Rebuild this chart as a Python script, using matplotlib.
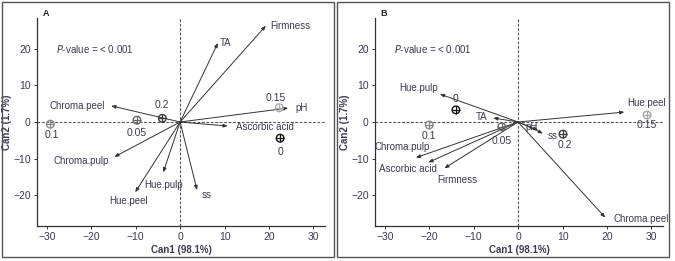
import matplotlib
matplotlib.use("Agg")
import matplotlib.pyplot as plt
from matplotlib.patches import Rectangle

plt.rcParams['font.family'] = ['Liberation Sans Narrow', 'Liberation Sans', 'DejaVu Sans']

# panel A: variable vectors and group centroids
a_vars = ["Firmness", "TA", "Chroma.peel", "pH", "Ascorbic acid",
          "Chroma.pulp", "Hue.pulp", "Hue.peel", "ss"]
a_vx = [19.3, 8.5, -15.5, 24.3, 10.7, -14.8, -3.8, -10.1, 3.8]
a_vy = [26.2, 21.5, 4.4, 3.8, -1.1, -9.5, -13.7, -19.1, -18.5]
a_groups = ["0.1", "0.05", "0.2", "0.15", "0"]
a_gx = [-29.2, -9.7, -4.0, 22.3, 22.5]
a_gy = [-0.6, 0.5, 1.0, 3.9, -4.4]

# panel B
b_vars = ["Hue.pulp", "Hue.peel", "TA", "pH", "ss",
          "Chroma.pulp", "Ascorbic acid", "Firmness", "Chroma.peel"]
b_vx = [-17.6, 23.9, -5.6, 4.5, 5.6, -23.0, -20.2, -16.6, 19.6]
b_vy = [7.6, 2.7, 1.1, -2.2, -3.1, -9.7, -11.0, -12.6, -26.0]
b_groups = ["0", "0.1", "0.05", "0.2", "0.15"]
b_gx = [-14.0, -20.0, -3.7, 10.1, 29.0]
b_gy = [3.3, -0.8, -1.3, -3.3, 1.9]

xticks = [-30, -20, -10, 0, 10, 20, 30]
yticks = [-20, -10, 0, 10, 20]

# layout: label offsets in pixels and alignment
a_vlab = {"Firmness": (4, 0, "left"), "TA": (2, 0, "left"),
          "Chroma.peel": (-6, 0, "right"), "pH": (7, 0, "left"),
          "Ascorbic acid": (8, -1, "left"), "Chroma.pulp": (-5, -4, "right"),
          "Hue.pulp": (0, -13, "center"), "Hue.peel": (-7, -9, "center"),
          "ss": (5, -5, "left")}
a_glab = {"0.1": (2, -11), "0.05": (0, -13), "0.2": (0, 13), "0.15": (-3, 10), "0": (0, -14)}
b_vlab = {"Hue.pulp": (-2, 6, "right"), "Hue.peel": (22, 9, "center"),
          "TA": (-6, 1, "right"), "pH": (0, 3, "right"), "ss": (5, -3, "left"),
          "Chroma.pulp": (-14, 11, "center"), "Ascorbic acid": (-20, -7, "center"),
          "Firmness": (13, -12, "center"), "Chroma.peel": (8, -1, "left")}
b_glab = {"0": (0, 11), "0.1": (0, -11), "0.05": (0, -14), "0.2": (2, -11), "0.15": (0, -10)}
gcol = {"0": "#111111", "0.2": "#3a3a3a", "0.05": "#666666", "0.1": "#888888", "0.15": "#aaaaaa"}

txtc = "#3c3c4c"

fig = plt.figure(figsize=(6.75, 2.61), dpi=100)
fig.patches.append(Rectangle((2/675, 4/261), 332/675, 255/261, transform=fig.transFigure,
                             fill=False, ec="#555555", lw=1.0))
fig.patches.append(Rectangle((337/675, 4/261), 332/675, 255/261, transform=fig.transFigure,
                             fill=False, ec="#555555", lw=1.0))


def panel(rect, letter, vars_, vx, vy, vlab, groups, gx, gy, glab):
    ax = fig.add_axes(rect)
    ax.set_xlim(-32.2, 32.6)
    ax.set_ylim(-28.3, 28.3)
    for s in ["top", "right"]:
        ax.spines[s].set_visible(False)
    for s in ["left", "bottom"]:
        ax.spines[s].set_color("#333333")
        ax.spines[s].set_linewidth(0.9)
    ax.set_xticks(xticks)
    ax.set_yticks(yticks)
    ax.tick_params(labelsize=7.5, colors="#333333", length=2.5, width=0.7, pad=2,
                   labelcolor=txtc)
    ax.axhline(0, color="#555555", lw=0.8, ls=(0, (2.5, 1.5)))
    ax.axvline(0, color="#555555", lw=0.8, ls=(0, (2.5, 1.5)))
    for name, x, y in zip(vars_, vx, vy):
        ax.annotate("", xy=(x, y), xytext=(0, 0),
                    arrowprops=dict(arrowstyle="-|>,head_length=0.25,head_width=0.1",
                                    color="#333333", lw=0.7, shrinkA=0, shrinkB=0))
        dx, dy, ha = vlab[name]
        ax.annotate(name, xy=(x, y), xytext=(dx, dy), textcoords="offset pixels",
                    ha=ha, va="center", fontsize=7, color=txtc)
    for name, x, y in zip(groups, gx, gy):
        c = gcol[name]
        ax.scatter([x], [y], s=30, facecolors="none", edgecolors=c, linewidths=1.0, zorder=4)
        ax.scatter([x], [y], s=28, marker="+", color=c, linewidths=0.9, zorder=5)
        dx, dy = glab[name]
        ax.annotate(name, xy=(x, y), xytext=(dx, dy), textcoords="offset pixels",
                    ha="center", va="center", fontsize=7.5, color=txtc)
    ax.text(-28, 20, r"$P$-value = < 0.001", fontsize=7, color=txtc, va="center")
    ax.set_xlabel("Can1 (98.1%)", fontsize=7, fontweight="bold", color=txtc, labelpad=2)
    ax.set_ylabel("Can2 (1.7%)", fontsize=7, fontweight="bold", color=txtc, labelpad=1)
    ax.text(0.02, 1.0 + 5/208, letter, transform=ax.transAxes, fontsize=6.5, fontweight="bold",
            color="#222222", ha="left", va="center")
    return ax


panel([37/675, 35/261, 288/675, 208/261], "A", a_vars, a_vx, a_vy, a_vlab,
      a_groups, a_gx, a_gy, a_glab)
panel([375/675, 35/261, 288/675, 208/261], "B", b_vars, b_vx, b_vy, b_vlab,
      b_groups, b_gx, b_gy, b_glab)

fig.savefig("out.png", dpi=100)
